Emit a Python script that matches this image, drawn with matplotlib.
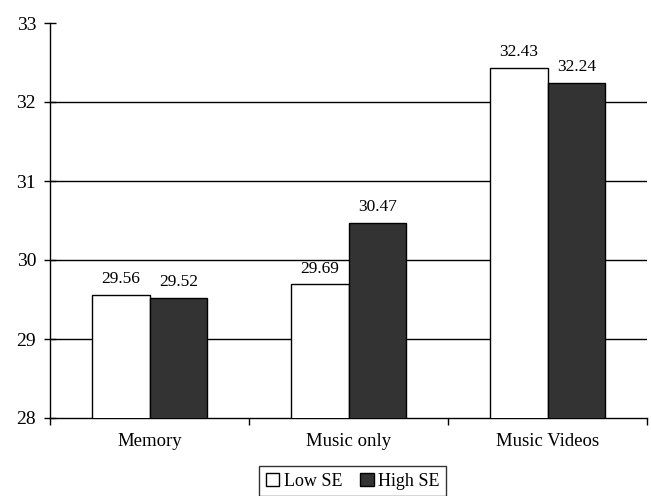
import matplotlib
matplotlib.use("Agg")
import matplotlib.pyplot as plt
import numpy as np

categories = ["Memory", "Music only", "Music Videos"]
low_se = [29.56, 29.69, 32.43]
high_se = [29.52, 30.47, 32.24]
series_names = ["Low SE", "High SE"]
y_ticks = [28, 29, 30, 31, 32, 33]

plt.rcParams["font.family"] = ["Liberation Serif", "DejaVu Serif"]

fig = plt.figure(figsize=(6.51, 4.96), dpi=100)
ax = fig.add_axes([50 / 651, 1 - 418 / 496, 597 / 651, 395 / 496])

x = np.arange(len(categories))
w = 0.29
b1 = ax.bar(x - w / 2, low_se, w, color="white", edgecolor="black",
            linewidth=1.0, zorder=3, label=series_names[0])
b2 = ax.bar(x + w / 2, high_se, w, color="#333333", edgecolor="black",
            linewidth=1.0, zorder=3, label=series_names[1])

for bars, vals in ((b1, low_se), (b2, high_se)):
    for b, v in zip(bars, vals):
        ax.text(b.get_x() + b.get_width() / 2, v + 0.1, f"{v:.2f}",
                ha="center", va="bottom", fontsize=12.5)

ax.set_ylim(28, 33)
ax.set_xlim(-0.5, len(categories) - 0.5)
ax.set_yticks(y_ticks)
ax.tick_params(axis="y", direction="inout", length=8, width=1.0, labelsize=14, pad=6)
for yv in y_ticks[1:-1]:
    ax.axhline(yv, color="black", linewidth=1.0, zorder=1)

ax.set_xticks(x)
ax.set_xticklabels(categories, fontsize=13.5)
ax.tick_params(axis="x", length=0, pad=11)
ax.set_xticks(np.arange(len(categories) + 1) - 0.5, minor=True)
ax.tick_params(axis="x", which="minor", direction="out", length=5, width=1.0)

ax.spines["top"].set_visible(False)
ax.spines["right"].set_visible(False)
ax.spines["left"].set_linewidth(1.0)
ax.spines["bottom"].set_linewidth(1.0)

leg = ax.legend(loc="upper center", bbox_to_anchor=(0.507, -0.122), ncol=2,
                frameon=True, fancybox=False, edgecolor="black", fontsize=13,
                handlelength=0.75, handleheight=0.75, handletextpad=0.25,
                columnspacing=1.0, borderpad=0.35, borderaxespad=0)
leg.get_frame().set_linewidth(1.0)

fig.savefig("out.png", dpi=100)
